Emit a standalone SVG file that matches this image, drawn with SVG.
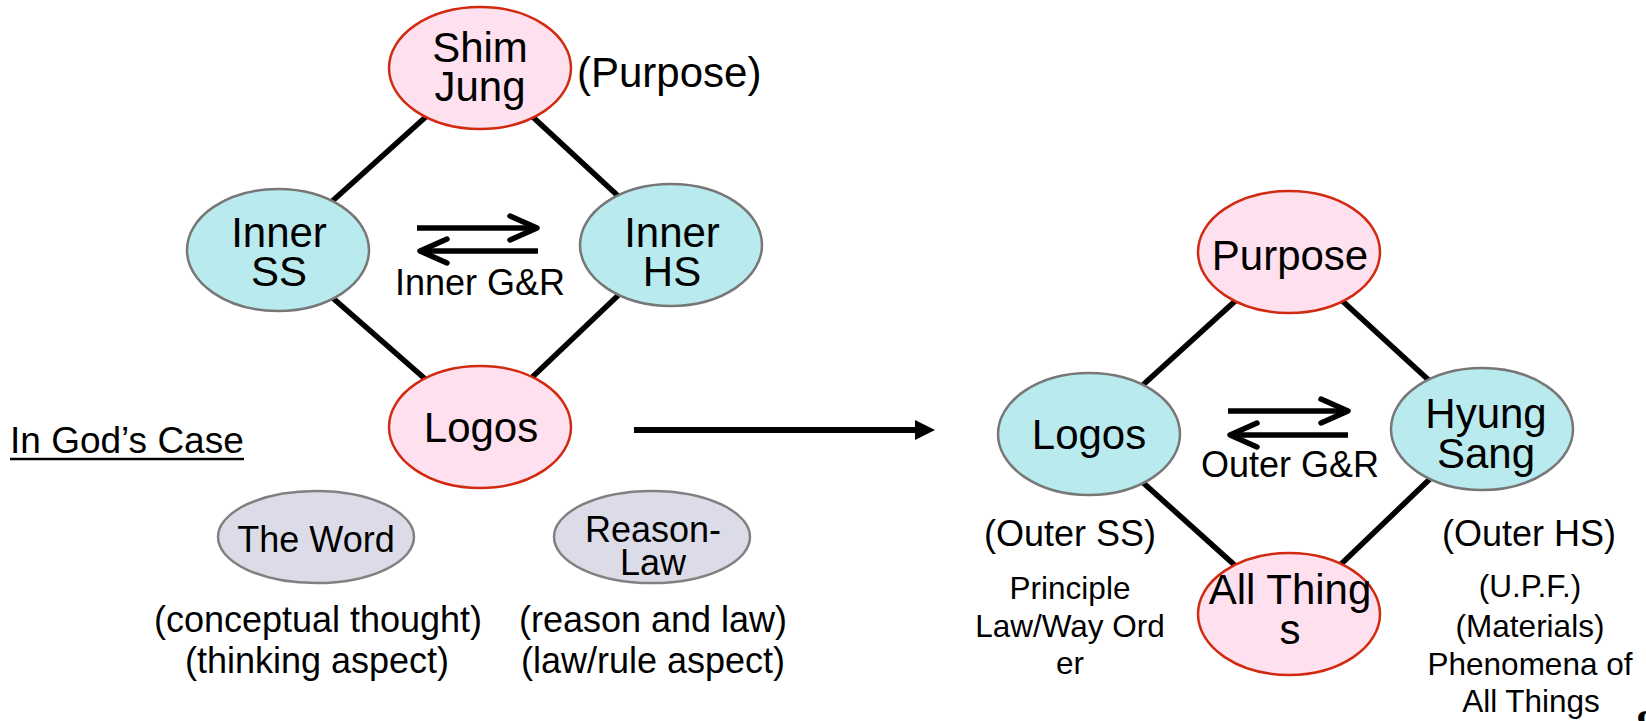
<svg xmlns="http://www.w3.org/2000/svg" width="1646" height="721" viewBox="0 0 1646 721">
<style>
text{font-family:"Liberation Sans",Arial,sans-serif;fill:#000}
.n{font-size:42px;text-anchor:middle}
.m{font-size:36px;text-anchor:middle}
.s{font-size:31.5px;text-anchor:middle}
.pink{fill:#ffe0ee;stroke:#d22a10;stroke-width:2.5}
.cyan{fill:#b8eaee;stroke:#777;stroke-width:2.5}
.gray{fill:#dcdce8;stroke:#808080;stroke-width:2.5}
.edge{stroke:#000;stroke-width:5.5;fill:none}
.gr{stroke:#000;stroke-width:5.5;fill:none;stroke-linecap:round;stroke-linejoin:round}
</style>
<rect width="1646" height="721" fill="#fff"/>
<g id="connectors">
<line class="edge" x1="480" y1="68" x2="278" y2="250"/>
<line class="edge" x1="480" y1="68" x2="671" y2="245"/>
<line class="edge" x1="278" y1="250" x2="480" y2="427"/>
<line class="edge" x1="671" y1="245" x2="480" y2="427"/>
<line class="edge" x1="1289" y1="252" x2="1089" y2="434"/>
<line class="edge" x1="1289" y1="252" x2="1482" y2="429"/>
<line class="edge" x1="1089" y1="434" x2="1289" y2="614"/>
<line class="edge" x1="1482" y1="429" x2="1289" y2="614"/>
<line x1="634" y1="430" x2="918" y2="430" stroke="#000" stroke-width="6"/>
<polygon points="915,420 935,430 915,440" fill="#000"/>
</g>
<g id="inner-gr">
<line class="edge" x1="417" y1="228" x2="535" y2="228"/>
<polyline class="gr" points="510,216 537,228 510,240"/>
<line class="edge" x1="538" y1="251" x2="422" y2="251"/>
<polyline class="gr" points="447,239 420,251 447,263"/>
<text class="m" x="480" y="295">Inner G&amp;R</text>
</g>
<g id="outer-gr">
<line class="edge" x1="1228" y1="411" x2="1346" y2="411"/>
<polyline class="gr" points="1321,399 1348,411 1321,423"/>
<line class="edge" x1="1348" y1="435" x2="1232" y2="435"/>
<polyline class="gr" points="1257,423 1230,435 1257,447"/>
<text class="m" x="1290" y="477">Outer G&amp;R</text>
</g>
<g id="shim-jung">
<ellipse class="pink" cx="480" cy="68" rx="91" ry="61"/>
<text class="n" x="480" y="62">Shim</text>
<text class="n" x="480" y="101">Jung</text>
</g>
<text x="577" y="87" font-size="42">(Purpose)</text>
<g id="inner-ss">
<ellipse class="cyan" cx="278" cy="250" rx="91" ry="61"/>
<text class="n" x="279" y="247">Inner</text>
<text class="n" x="279" y="286">SS</text>
</g>
<g id="inner-hs">
<ellipse class="cyan" cx="671" cy="245" rx="91" ry="61"/>
<text class="n" x="672" y="247">Inner</text>
<text class="n" x="672" y="286">HS</text>
</g>
<g id="logos-left">
<ellipse class="pink" cx="480" cy="427" rx="91" ry="61"/>
<text class="n" x="481" y="442">Logos</text>
</g>
<g id="gods-case">
<text x="10" y="453" font-size="37">In God’s Case</text>
<line x1="10" y1="459" x2="244" y2="459" stroke="#000" stroke-width="2.5"/>
</g>
<g id="the-word">
<ellipse class="gray" cx="316" cy="537" rx="98" ry="46"/>
<text class="m" x="316" y="552">The Word</text>
</g>
<g id="reason-law">
<ellipse class="gray" cx="652" cy="537" rx="98" ry="46"/>
<text class="m" x="653" y="542">Reason-</text>
<text class="m" x="653" y="575">Law</text>
</g>
<text class="m" x="318" y="632">(conceptual thought)</text>
<text class="m" x="317" y="673">(thinking aspect)</text>
<text class="m" x="653" y="632">(reason and law)</text>
<text class="m" x="653" y="673">(law/rule aspect)</text>
<g id="purpose">
<ellipse class="pink" cx="1289" cy="252" rx="91" ry="61"/>
<text class="n" x="1290" y="270">Purpose</text>
</g>
<g id="logos-right">
<ellipse class="cyan" cx="1089" cy="434" rx="91" ry="61"/>
<text class="n" x="1089" y="449">Logos</text>
</g>
<g id="hyung-sang">
<ellipse class="cyan" cx="1482" cy="429" rx="91" ry="61"/>
<text class="n" x="1486" y="428">Hyung</text>
<text class="n" x="1486" y="468">Sang</text>
</g>
<g id="all-things">
<ellipse class="pink" cx="1289" cy="614" rx="91" ry="61"/>
<text class="n" x="1290" y="604">All Thing</text>
<text class="n" x="1290" y="644">s</text>
</g>
<text class="m" x="1070" y="546">(Outer SS)</text>
<text class="m" x="1529" y="546">(Outer HS)</text>
<text class="s" x="1070" y="599">Principle</text>
<text class="s" x="1070" y="637">Law/Way Ord</text>
<text class="s" x="1070" y="674">er</text>
<text class="s" x="1530" y="597">(U.P.F.)</text>
<text class="s" x="1530" y="637">(Materials)</text>
<text class="s" x="1530" y="675">Phenomena of</text>
<text class="s" x="1531" y="712">All Things</text>
<text x="1636" y="740" font-size="44" font-weight="bold" style="font-family:'Liberation Serif',serif">8</text>
</svg>
